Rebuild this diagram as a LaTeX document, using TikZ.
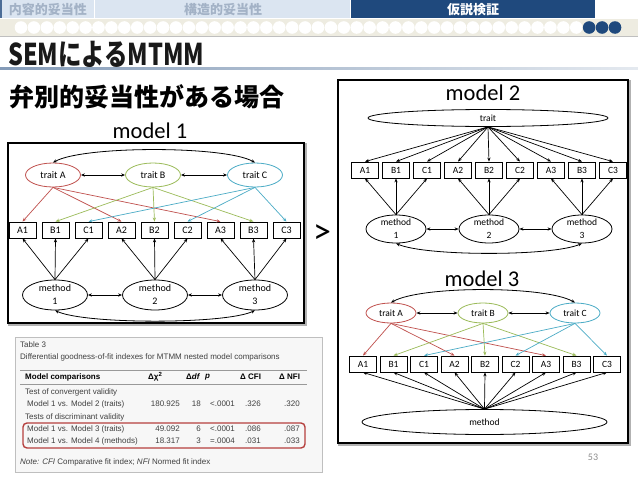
\documentclass[tikz,border=0pt]{standalone}
\usepackage{fontspec}
\setmainfont{Carlito}
\newfontfamily\jp{Noto Sans CJK JP}
\newfontfamily\tabfont{Liberation Sans}
\usetikzlibrary{arrows.meta, shapes.geometric}
\definecolor{traitA}{HTML}{C0504D}
\definecolor{traitB}{HTML}{9BBB59}
\definecolor{traitC}{HTML}{4BACC6}
\definecolor{navy}{HTML}{1F497D}
\definecolor{tabbg}{HTML}{DBE5F1}
\definecolor{tabtxt}{HTML}{A3B2C6}
\definecolor{beige}{HTML}{EEECE1}
\definecolor{boxred}{HTML}{B5403E}

\begin{document}
\begin{tikzpicture}[
    x=1pt, y=-1pt,
    font=\fontsize{10}{13}\selectfont,
    obs/.style={draw, line width=0.8pt, minimum width=27pt, minimum height=16pt, inner sep=0pt, fill=white},
    lat/.style={draw, ellipse, line width=0.8pt, inner sep=0pt, align=center, fill=white},
    arr/.style={-{Stealth[length=4pt,width=3.2pt]}, line width=0.7pt},
    dbl/.style={{Stealth[length=4pt,width=3.2pt]}-{Stealth[length=4pt,width=3.2pt]}, line width=0.8pt},
    frame/.style={line width=2.5pt},
    modlabel/.style={font=\fontsize{22.5}{24}\selectfont, inner sep=0pt},
    tabtext/.style={font=\jp\bfseries\fontsize{13}{13}\selectfont, text=tabtxt, inner sep=0pt},
    tab/.style={font=\tabfont\fontsize{8}{9}\selectfont, text=black!75, inner sep=0pt}
  ]
    \useasboundingbox (0,0) rectangle (638,479);

    % header tabs
    \fill[tabbg] (0,0) rectangle (94,18);
    \fill[navy!80] (0,0) rectangle (1.5,18);
    \fill[tabbg] (95,0) rectangle (350,18);
    \fill[navy] (351,0) rectangle (595,18);
    \node[tabtext] (tab1) at (48,9.5) {内容的妥当性};
    \node[tabtext] (tab2) at (223,9.5) {構造的妥当性};
    \node[tabtext, text=white] (tab3) at (473,9.5) {仮説検証};
    \fill[beige] (0,19) rectangle (638,36);
    \draw[black!25, line width=1pt] (0,36) -- (638,36);
    \foreach \i in {0,...,43}
      \fill[white] (21+12.913*\i,27.5) circle (6.3);
    \foreach \i in {44,45,46}
      \fill[navy] (21+12.913*\i,27.5) circle (6.3);

    % title
    \node[anchor=base west, inner sep=0pt, font=\jp\bfseries\fontsize{30}{30}\selectfont, text=black!90] (title) at (8,65) {\scalebox{0.78}[1]{SEMによるMTMM}};
    \shade[left color=navy!55, right color=navy!12] (0,67.5) rectangle (638,69.5);
    \node[anchor=base west, inner sep=0pt, font=\jp\bfseries\fontsize{25}{25}\selectfont] (sub) at (9,106) {弁別的妥当性がある場合};

    % model 1
    \draw[black!30, frame] (9.5,144.5) rectangle (305.5,324.5);
    \draw[frame, fill=white] (8,143) rectangle (304,323);
    \node[modlabel, anchor=base] (lab1) at (150,138) {model 1};
    \node[lat, draw=traitA, minimum width=55pt, minimum height=24pt] (m1-trA) at (53,175) {trait A};
    \node[lat, draw=traitB, minimum width=55pt, minimum height=24pt] (m1-trB) at (153,175) {trait B};
    \node[lat, draw=traitC, minimum width=55pt, minimum height=24pt] (m1-trC) at (255,175) {trait C};
    \foreach \n [count=\i from 0] in {A1,B1,C1,A2,B2,C2,A3,B3,C3}
      \node[obs] (m1-\n) at (22.5+33*\i,230) {\n};
    \node[lat, minimum width=65pt, minimum height=30pt] (m1-me1) at (55,295) {method\\1};
    \node[lat, minimum width=65pt, minimum height=30pt] (m1-me2) at (155,295) {method\\2};
    \node[lat, minimum width=65pt, minimum height=30pt] (m1-me3) at (255,295) {method\\3};

    \foreach \t/\c in {A/traitA, B/traitB, C/traitC}
      \foreach \k in {1,2,3}
        \draw[arr, \c] (m1-tr\t.south) -- (m1-\t\k.north);
    \foreach \k in {1,2,3}
      \foreach \t in {A,B,C}
        \draw[arr] (m1-me\k.north) -- (m1-\t\k.south);
    \draw[dbl] (m1-trA) -- (m1-trB);
    \draw[dbl] (m1-trB) -- (m1-trC);
    \draw[dbl] (m1-trA.north) .. controls +(30,-17) and +(-30,-17) .. (m1-trC.north);
    \draw[dbl] (m1-me1) -- (m1-me2);
    \draw[dbl] (m1-me2) -- (m1-me3);
    \draw[dbl] (m1-me1.south) .. controls +(30,14) and +(-30,14) .. (m1-me3.south);

    \node[font=\fontsize{36}{36}\selectfont, inner sep=0pt] (gt) at (322,234) {>};

    % models 2 and 3
    \draw[black!30, frame] (339.5,81.5) rectangle (629.5,444.5);
    \draw[frame, fill=white] (338,80) rectangle (628,443);
    \node[modlabel, anchor=base] (lab2) at (483,100) {model 2};
    \node[lat, font=\fontsize{9.5}{13}\selectfont, minimum width=240pt, minimum height=17pt] (m2-tr) at (488,118) {trait};
    \foreach \n [count=\i from 0] in {A1,B1,C1,A2,B2,C2,A3,B3,C3}
      \node[obs, font=\fontsize{9.5}{13}\selectfont] (m2-\n) at (365+31*\i,170) {\n};
    \node[lat, font=\fontsize{9.5}{13}\selectfont, minimum width=60pt, minimum height=28pt] (m2-me1) at (396,229) {method\\1};
    \node[lat, font=\fontsize{9.5}{13}\selectfont, minimum width=60pt, minimum height=28pt] (m2-me2) at (489,229) {method\\2};
    \node[lat, font=\fontsize{9.5}{13}\selectfont, minimum width=60pt, minimum height=28pt] (m2-me3) at (582,229) {method\\3};
    \foreach \n in {A1,B1,C1,A2,B2,C2,A3,B3,C3}
      \draw[arr] (m2-tr.south) -- (m2-\n.north);
    \foreach \k in {1,2,3}
      \foreach \t in {A,B,C}
        \draw[arr] (m2-me\k.north) -- (m2-\t\k.south);
    \draw[dbl] (m2-me1) -- (m2-me2);
    \draw[dbl] (m2-me2) -- (m2-me3);
    \draw[dbl] (m2-me1.south) .. controls +(30,13) and +(-30,13) .. (m2-me3.south);

    \node[modlabel, anchor=base] (lab3) at (482,286) {model 3};
    \node[lat, draw=traitA, font=\fontsize{9.5}{13}\selectfont, minimum width=50pt, minimum height=20pt] (m3-trA) at (391,313) {trait A};
    \node[lat, draw=traitB, font=\fontsize{9.5}{13}\selectfont, minimum width=50pt, minimum height=20pt] (m3-trB) at (483,313) {trait B};
    \node[lat, draw=traitC, font=\fontsize{9.5}{13}\selectfont, minimum width=50pt, minimum height=20pt] (m3-trC) at (575,313) {trait C};
    \foreach \n [count=\i from 0] in {A1,B1,C1,A2,B2,C2,A3,B3,C3}
      \node[obs, font=\fontsize{9.5}{13}\selectfont] (m3-\n) at (363+30.5*\i,364) {\n};
    \node[lat, font=\fontsize{9.5}{13}\selectfont, minimum width=245pt, minimum height=25pt] (m3-me) at (484.5,422) {method};
    \foreach \t/\c in {A/traitA, B/traitB, C/traitC}
      \foreach \k in {1,2,3}
        \draw[arr, \c] (m3-tr\t.south) -- (m3-\t\k.north);
    \foreach \n in {A1,B1,C1,A2,B2,C2,A3,B3,C3}
      \draw[arr] (m3-me.north) -- (m3-\n.south);
    \draw[dbl] (m3-trA) -- (m3-trB);
    \draw[dbl] (m3-trB) -- (m3-trC);
    \draw[dbl] (m3-trA.north) .. controls +(30,-17) and +(-30,-17) .. (m3-trC.north);

    \node[text=black!45, inner sep=0pt] (page) at (593,457) {53};

    % table
    \draw[black!25, fill=black!3] (15,337) rectangle (322,472);
    \node[tab, anchor=west] (t-cap) at (20,345) {Table 3};
    \node[tab, anchor=west] (t-ttl) at (20,357) {Differential goodness-of-fit indexes for MTMM nested model comparisons};
    \draw[black!40, line width=0.5pt] (20,370) -- (307,370);
    \node[tab, anchor=west, text=black] (h1) at (25,377) {\bfseries Model comparisons};
    \node[tab, anchor=west, text=black] (h2) at (148,377) {\bfseries Δχ\textsuperscript{2}};
    \node[tab, anchor=west, text=black] (h3) at (186,377) {\bfseries Δ\itshape df};
    \node[tab, anchor=west, text=black] (h4) at (205,377) {\bfseries\itshape p};
    \node[tab, anchor=west, text=black] (h5) at (240,377) {\bfseries Δ CFI};
    \node[tab, anchor=west, text=black] (h6) at (279,377) {\bfseries Δ NFI};
    \draw[black!40, line width=0.5pt] (20,384) -- (307,384);
    \node[tab, anchor=west] (g1) at (25,392) {Test of convergent validity};
    \node[tab, anchor=west] (r1) at (27,404) {Model 1 vs. Model 2 (traits)};
    \node[tab, anchor=east] (r1a) at (180,404) {180.925};
    \node[tab, anchor=east] (r1b) at (201,404) {18};
    \node[tab, anchor=west] (r1c) at (210,404) {<.0001};
    \node[tab, anchor=west] (r1d) at (245,404) {.326};
    \node[tab, anchor=west] (r1e) at (284,404) {.320};
    \node[tab, anchor=west] (g2) at (25,417) {Tests of discriminant validity};
    \node[tab, anchor=west] (r2) at (27,429) {Model 1 vs. Model 3 (traits)};
    \node[tab, anchor=east] (r2a) at (180,429) {49.092};
    \node[tab, anchor=east] (r2b) at (201,429) {6};
    \node[tab, anchor=west] (r2c) at (210,429) {<.0001};
    \node[tab, anchor=west] (r2d) at (245,429) {.086};
    \node[tab, anchor=west] (r2e) at (284,429) {.087};
    \node[tab, anchor=west] (r3) at (27,441) {Model 1 vs. Model 4 (methods)};
    \node[tab, anchor=east] (r3a) at (180,441) {18.317};
    \node[tab, anchor=east] (r3b) at (201,441) {3};
    \node[tab, anchor=west] (r3c) at (210,441) {=.0004};
    \node[tab, anchor=west] (r3d) at (245,441) {.031};
    \node[tab, anchor=west] (r3e) at (284,441) {.033};
    \draw[boxred, line width=1.4pt, rounded corners=4pt] (23,423) rectangle (305,448);
    \node[tab, anchor=west] (note) at (20,462) {\itshape Note: CFI\upshape{} Comparative fit index; \itshape NFI\upshape{} Normed fit index};
  \end{tikzpicture}
\end{document}
